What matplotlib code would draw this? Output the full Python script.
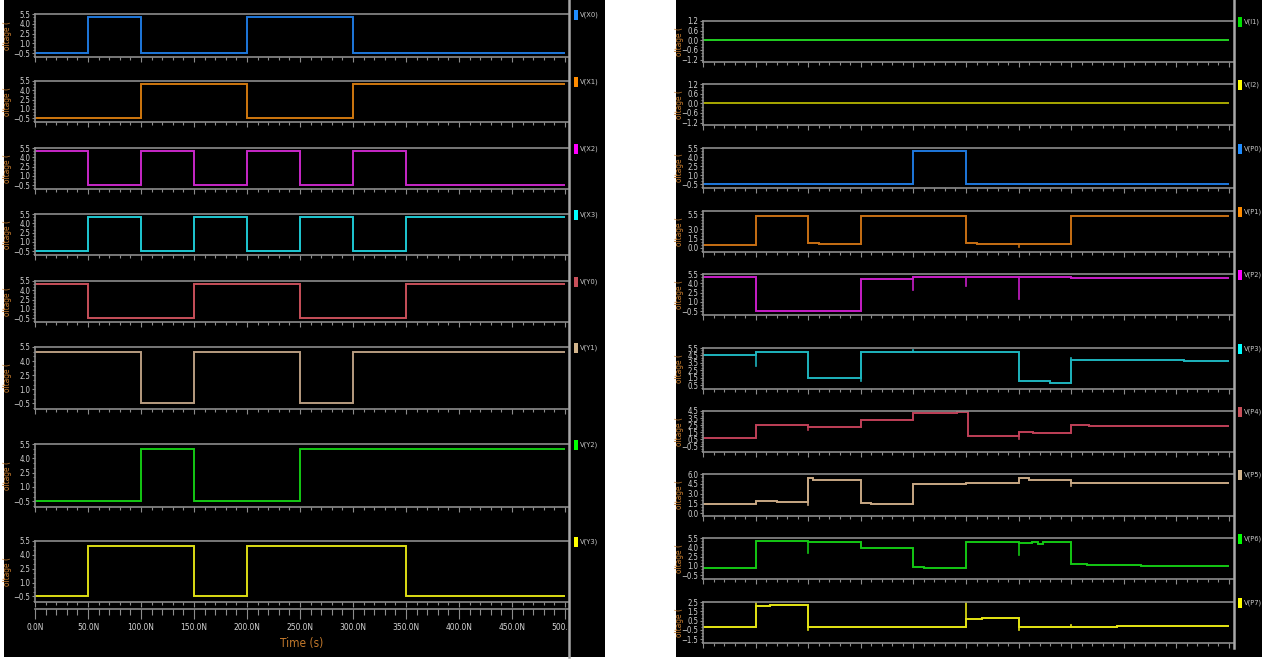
import numpy as np
import matplotlib
matplotlib.use('Agg')
import matplotlib.pyplot as plt
from matplotlib.ticker import MultipleLocator, AutoMinorLocator
from matplotlib.patches import Rectangle
from matplotlib.lines import Line2D
from matplotlib.transforms import Bbox, TransformedBbox
from matplotlib import font_manager as fm

# ---------------- data (time in ns, voltage in V) ----------------
LO, HI = -0.45, 5.0

# left panel signals
X0_edges = [0, 50, 100, 200, 300, 500]
X0_levels = [LO, HI, LO, HI, LO]
X1_edges = [0, 100, 200, 300, 500]
X1_levels = [LO, HI, LO, HI]
X2_edges = [0, 50, 100, 150, 200, 250, 300, 350, 500]
X2_levels = [HI, LO, HI, LO, HI, LO, HI, LO]
X3_edges = [0, 50, 100, 150, 200, 250, 300, 350, 500]
X3_levels = [LO, HI, LO, HI, LO, HI, LO, HI]
Y0_edges = [0, 50, 150, 250, 350, 500]
Y0_levels = [HI, LO, HI, LO, HI]
Y1_edges = [0, 100, 150, 250, 300, 500]
Y1_levels = [HI, LO, HI, LO, HI]
Y2_edges = [0, 100, 150, 250, 500]
Y2_levels = [LO, HI, LO, HI]
Y3_edges = [0, 50, 150, 200, 350, 500]
Y3_levels = [LO, HI, LO, HI, LO]

# right panel signals
I1_edges = [0, 500]
I1_levels = [0.0]
I2_edges = [0, 500]
I2_levels = [0.0]
P0_edges = [0, 200, 250, 500]
P0_levels = [LO, HI, LO]
P1_edges = [0, 50, 100, 110, 150, 250, 260, 350, 500]
P1_levels = [0.48, 5.2, 0.86, 0.64, 5.2, 0.86, 0.64, 5.2]
P1_glitch_t = [300]
P1_glitch_v = [0.1]
P2_edges = [0, 50, 150, 200, 350, 500]
P2_levels = [5.0, -0.4, 4.7, 5.0, 4.85]
P2_glitch_t = [200, 250, 300]
P2_glitch_v = [2.95, 3.6, 1.5]
P3_edges = [0, 50, 100, 150, 300, 330, 350, 457, 500]
P3_levels = [4.6, 4.9, 1.5, 5.0, 1.0, 0.8, 3.9, 3.8]
P3_glitch_t = [50, 150, 200, 350]
P3_glitch_v = [3.1, 1.0, 5.2, 4.2]
P4_edges = [0, 50, 100, 150, 200, 241, 252, 300, 314, 350, 367, 500]
P4_levels = [0.72, 2.5, 2.2, 3.2, 4.2, 4.35, 1.0, 1.5, 1.35, 2.5, 2.4]
P4_glitch_t = [100, 300]
P4_glitch_v = [1.8, 0.6]
P5_edges = [0, 50, 70, 100, 105, 150, 160, 200, 250, 300, 310, 350, 500]
P5_levels = [1.5, 1.95, 1.8, 5.4, 5.15, 1.6, 1.4, 4.5, 4.7, 5.4, 5.15, 4.65]
P5_glitch_t = [100, 350]
P5_glitch_v = [1.3, 4.2]
P6_edges = [0, 50, 100, 150, 200, 210, 250, 300, 313, 318, 323, 350, 365, 416, 500]
P6_levels = [0.7, 5.0, 4.85, 3.9, 0.85, 0.75, 4.85, 4.7, 4.85, 4.6, 4.85, 1.3, 1.2, 1.0]
P6_glitch_t = [100, 300]
P6_glitch_v = [3.1, 2.8]
P7_edges = [0, 50, 64, 100, 250, 265, 300, 366, 394, 500]
P7_levels = [-0.18, 2.07, 2.18, -0.18, 0.71, 0.82, -0.18, -0.14, -0.04]
P7_glitch_t = [50, 100, 250, 300, 350]
P7_glitch_v = [2.4, -0.46, 2.4, -0.46, 0.0]

time_ticks = [0, 50, 100, 150, 200, 250, 300, 350, 400, 450, 500]
time_labels = ['0.0N', '50.0N', '100.0N', '150.0N', '200.0N', '250.0N',
               '300.0N', '350.0N', '400.0N', '450.0N', '500.0N']

# ---------------- fonts ----------------
names = {f.name for f in fm.fontManager.ttflist}
has_cond = any(f.name == 'DejaVu Sans' and f.stretch == 'condensed' for f in fm.fontManager.ttflist)
if 'Liberation Sans Narrow' in names:
    NARROW = dict(family='Liberation Sans Narrow')
elif has_cond:
    NARROW = dict(family='DejaVu Sans', stretch='condensed')
else:
    NARROW = dict(family='DejaVu Sans')

# ---------------- figure ----------------
W, H = 1266, 659
fig = plt.figure(figsize=(W / 100, H / 100), dpi=100, facecolor='white')

def fx(px):
    return px / W

def fy(py):
    return 1 - py / H

def rect(x0, y0, x1, y1):
    return [fx(x0), fy(y1), (x1 - x0) / W, (y1 - y0) / H]

# black panels
fig.add_artist(Rectangle((fx(4), fy(657)), fx(605 - 4), 657 / H,
                         transform=fig.transFigure, facecolor='black', edgecolor='none', zorder=0))
fig.add_artist(Rectangle((fx(676), fy(657)), fx(1262 - 676), 657 / H,
                         transform=fig.transFigure, facecolor='black', edgecolor='none', zorder=0))

GRAY = '#8c8c8c'
TICKLBL = '#d4d4d4'
ORANGE = '#c47a2c'
TSIZE = 5.6


def draw(ax, edges, levels, color, gt=(), gv=()):
    ax.stairs(levels, edges, color=color, lw=1.4, baseline=None)
    for t, v in zip(gt, gv):
        i = int(np.searchsorted(edges, t, side='right')) - 1
        i = min(max(i, 0), len(levels) - 1)
        ax.plot([t, t], [levels[i], v], color=color, lw=1.2)


def style(ax, xmax, ylim, yticks):
    ax.set_facecolor('black')
    ax.set_xlim(0, xmax)
    ax.set_ylim(*ylim)
    for s in ['top', 'bottom', 'left']:
        ax.spines[s].set_color(GRAY)
        ax.spines[s].set_linewidth(1.2)
    ax.spines['right'].set_visible(False)
    ax.xaxis.set_major_locator(MultipleLocator(50))
    ax.xaxis.set_minor_locator(MultipleLocator(10))
    ax.tick_params(axis='x', which='major', direction='out', length=3.5, width=0.8,
                   color=GRAY, labelbottom=False)
    ax.tick_params(axis='x', which='minor', direction='out', length=2, width=0.8, color=GRAY)
    ax.set_yticks(yticks)
    ax.yaxis.set_minor_locator(AutoMinorLocator(3))
    ax.tick_params(axis='y', which='major', direction='out', length=2.5, width=0.8,
                   color=GRAY, labelcolor=TICKLBL, labelsize=TSIZE, pad=0.8)
    ax.tick_params(axis='y', which='minor', direction='out', length=1.8, width=0.8, color=GRAY)
    for lbl in ax.get_yticklabels():
        lbl.set_fontproperties(fm.FontProperties(size=TSIZE, **NARROW))


def ylab(top, bot, xpx):
    fig.text(fx(xpx), fy((top + bot) / 2), 'oltage (', rotation=90, color=ORANGE,
             ha='center', va='center', fontsize=6.0, **NARROW)


def legend(top, xsq, label, color):
    fig.add_artist(Rectangle((fx(xsq), fy(top + 6)), 4.5 / W, 10 / H,
                             transform=fig.transFigure, facecolor=color, edgecolor='none'))
    fig.text(fx(xsq + 6.5), fy(top + 1), label, color='#c8c8c8', fontsize=5.4,
             ha='left', va='center', **NARROW)


STD = dict(ylim=(-1.1, 5.5), yticks=[5.5, 4.0, 2.5, 1.0, -0.5])

left = [
    ('V(X0)', 14, 57, X0_edges, X0_levels, (), (), '#1e78dc', '#1e8cff', STD),
    ('V(X1)', 81, 122, X1_edges, X1_levels, (), (), '#d0780f', '#ff8c00', STD),
    ('V(X2)', 148, 189, X2_edges, X2_levels, (), (), '#c828c8', '#ff00ff', STD),
    ('V(X3)', 214, 255, X3_edges, X3_levels, (), (), '#1ec8d2', '#00ffff', STD),
    ('V(Y0)', 281, 322, Y0_edges, Y0_levels, (), (), '#c8505a', '#c8505a', STD),
    ('V(Y1)', 347, 409, Y1_edges, Y1_levels, (), (), '#b89c80', '#d2b48c', STD),
    ('V(Y2)', 444, 507, Y2_edges, Y2_levels, (), (), '#14c814', '#00ff00', STD),
    ('V(Y3)', 541, 602, Y3_edges, Y3_levels, (), (), '#dcdc14', '#ffff00', STD),
]

XL0, XL1 = 35, 568
xmax_l = 500 * (XL1 - XL0) / (565 - XL0)
for lab, top, bot, e, l, gt, gv, c, csq, spec in left:
    ax = fig.add_axes(rect(XL0, top, XL1, bot))
    style(ax, xmax_l, spec['ylim'], spec['yticks'])
    draw(ax, e, l, c, gt, gv)
    ylab(top, bot, 8)
    legend(top, 573.5, lab, csq)

# time axis below left panel
axt = fig.add_axes([fx(XL0), fy(609), (XL1 - XL0) / W, 0.0001])
axt.set_facecolor('none')
for s in ['top', 'left', 'right']:
    axt.spines[s].set_visible(False)
axt.spines['bottom'].set_color(GRAY)
axt.spines['bottom'].set_linewidth(1.2)
axt.set_xlim(0, xmax_l)
axt.set_yticks([])
axt.set_xticks(time_ticks)
axt.set_xticklabels(time_labels)
axt.xaxis.set_minor_locator(MultipleLocator(10))
axt.tick_params(axis='x', which='major', direction='out', length=7, width=0.8, color=GRAY,
                labelcolor=TICKLBL, pad=3)
axt.tick_params(axis='x', which='minor', direction='out', length=4, width=0.8, color=GRAY)
clipbox = TransformedBbox(Bbox([[0, 0], [fx(568), 1]]), fig.transFigure)
for lbl in axt.get_xticklabels():
    lbl.set_fontproperties(fm.FontProperties(size=6.0, **NARROW))
    lbl.set_clip_on(True)
    lbl.set_clip_box(clipbox)
fig.text(fx(302), fy(643), 'Time (s)', color=ORANGE, fontsize=8.5, ha='center', va='center', **NARROW)

right = [
    ('V(I1)', 21, 62, I1_edges, I1_levels, (), (), '#22d022', '#00e000',
     dict(ylim=(-1.35, 1.2), yticks=[1.2, 0.6, 0.0, -0.6, -1.2])),
    ('V(I2)', 84, 125, I2_edges, I2_levels, (), (), '#a8a800', '#ffff00',
     dict(ylim=(-1.35, 1.2), yticks=[1.2, 0.6, 0.0, -0.6, -1.2])),
    ('V(P0)', 148, 188, P0_edges, P0_levels, (), (), '#1e78dc', '#1e8cff', STD),
    ('V(P1)', 211, 252, P1_edges, P1_levels, P1_glitch_t, P1_glitch_v, '#c87014', '#ff8c00',
     dict(ylim=(-0.65, 6.0), yticks=[0.0, 1.5, 3.0, 5.5])),
    ('V(P2)', 274, 315, P2_edges, P2_levels, P2_glitch_t, P2_glitch_v, '#c81ec8', '#ff00ff', STD),
    ('V(P3)', 348, 389, P3_edges, P3_levels, P3_glitch_t, P3_glitch_v, '#1eb4be', '#00ffff',
     dict(ylim=(-0.03, 5.5), yticks=[5.5, 4.5, 3.5, 2.5, 1.5, 0.5])),
    ('V(P4)', 411, 452, P4_edges, P4_levels, P4_glitch_t, P4_glitch_v, '#c04058', '#c8505a',
     dict(ylim=(-1.3, 4.5), yticks=[4.5, 3.5, 2.5, 1.5, 0.5, -0.5])),
    ('V(P5)', 474, 516, P5_edges, P5_levels, P5_glitch_t, P5_glitch_v, '#c8a884', '#d2b48c',
     dict(ylim=(-0.4, 6.0), yticks=[6.0, 4.5, 3.0, 1.5, 0.0])),
    ('V(P6)', 538, 579, P6_edges, P6_levels, P6_glitch_t, P6_glitch_v, '#14c814', '#00ff00', STD),
    ('V(P7)', 602, 643, P7_edges, P7_levels, P7_glitch_t, P7_glitch_v, '#e6e614', '#ffff00',
     dict(ylim=(-1.9, 2.5), yticks=[2.5, 1.5, 0.5, -0.5, -1.5])),
]

XR0, XR1 = 703, 1233
xmax_r = 500 * (XR1 - XR0) / (1229 - XR0)
for lab, top, bot, e, l, gt, gv, c, csq, spec in right:
    ax = fig.add_axes(rect(XR0, top, XR1, bot))
    style(ax, xmax_r, spec['ylim'], spec['yticks'])
    draw(ax, e, l, c, gt, gv)
    ylab(top, bot, 679.5)
    legend(top, 1237.5, lab, csq)

# separators
fig.add_artist(Line2D([fx(569), fx(569)], [fy(657), fy(0)], transform=fig.transFigure,
                      color='#a8a8a8', lw=1.8))
fig.add_artist(Line2D([fx(1234), fx(1234)], [fy(648), fy(0)], transform=fig.transFigure,
                      color='#a8a8a8', lw=1.8))

fig.savefig('out.png', dpi=100, facecolor='white')
